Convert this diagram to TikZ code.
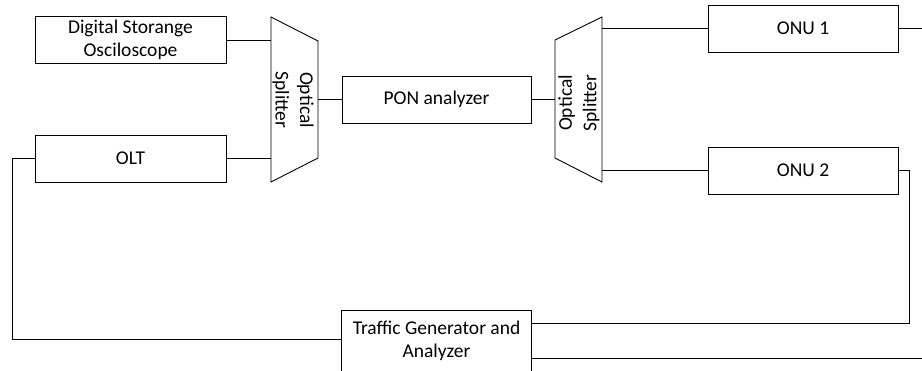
\documentclass[tikz,border=0pt]{standalone}
\usepackage{fontspec}
\setmainfont{Carlito}
\begin{document}
\begin{tikzpicture}[x=1pt,y=-1pt, line width=0.9pt,
 box/.style={draw, minimum width=191pt, minimum height=47pt, align=center, inner sep=0pt, font=\fontsize{19.5}{23}\selectfont},
 lbl/.style={align=center, inner sep=0pt, font=\fontsize{19.5}{24.5}\selectfont},
 wire/.style={draw, line width=0.9pt}]
\useasboundingbox (0,0) rectangle (922,370);
\clip (0,0) rectangle (922,370);
% boxes
\node[box] (dso) at (130.5,40) {Digital Storange\\Osciloscope};
\node[box] (olt) at (130.5,158.5) {OLT};
\node[box, minimum width=189pt] (pon) at (436.5,99.5) {PON analyzer};
\node[box, minimum width=190pt] (onu1) at (803,28.5) {ONU 1};
\node[box, minimum width=190pt] (onu2) at (803,170.5) {ONU 2};
\node[box, draw=none, minimum width=189pt, minimum height=60pt] (tga) at (436.5,341) {Traffic Generator and\\Analyzer};
\draw (tga.south west) -- (tga.north west) -- (tga.north east) -- (tga.south east);
% splitters
\coordinate (s1tl) at (271,17);
\coordinate (s1bl) at (271,182);
\coordinate (s1tr) at (318,41);
\coordinate (s1br) at (318,158);
\draw (s1tl) -- (s1tr) -- (s1br) -- (s1bl) -- cycle;
\node[lbl, rotate=-90] (sp1) at (293,100) {Optical\\Splitter};
\coordinate (s2tl) at (555,40);
\coordinate (s2bl) at (555,158);
\coordinate (s2tr) at (602,17);
\coordinate (s2br) at (602,182);
\draw (s2tl) -- (s2tr) -- (s2br) -- (s2bl) -- cycle;
\node[lbl, rotate=90] (sp2) at (579,103) {Optical\\Splitter};
% connectors
\draw[wire] (dso.east) -- (dso.east -| s1tl);
\draw[wire] (olt.east) -- (olt.east -| s1tl);
\draw[wire] (pon.west -| s1tr) -- (pon.west);
\draw[wire] (pon.east) -- (pon.east -| s2tl);
\draw[wire] (onu1.west -| s2tr) -- (onu1.west);
\draw[wire] (onu2.west -| s2tr) -- (onu2.west);
\coordinate (e1) at (922,28.5);
\draw[wire] (onu1.east) -- (e1);
\coordinate (c2) at (909,323);
\draw[wire] (onu2.east) -| (c2) -- (c2 -| tga.east);
\coordinate (c1) at (12,339);
\draw[wire] (olt.west) -| (c1) -- (c1 -| tga.west);
\coordinate (c3) at (922,358);
\draw[wire] (c3 -| tga.east) -- (c3);
\end{tikzpicture}
\end{document}
